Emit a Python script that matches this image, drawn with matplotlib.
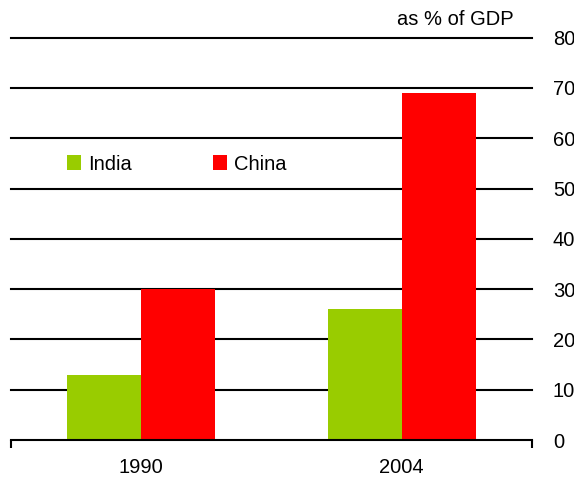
import matplotlib
matplotlib.use("Agg")
import matplotlib.pyplot as plt
import numpy as np

plt.rcParams["font.family"] = ["Liberation Sans", "DejaVu Sans"]

years = ["1990", "2004"]
india = [13, 26]
china = [30, 69]
yticks = [0, 10, 20, 30, 40, 50, 60, 70, 80]

GREEN = "#99CC00"
RED = "#FF0000"
FS = 14.5

fig = plt.figure(figsize=(5.74, 4.79), dpi=100)
ax = fig.add_axes([11 / 574, 1 - 440 / 479, 521 / 574, (440 - 37.7) / 479])

x = np.arange(len(years))
w = 0.284
ax.bar(x - w / 2, india, width=w, color=GREEN, label="India", zorder=3)
ax.bar(x + w / 2, china, width=w, color=RED, label="China", zorder=3)

ax.set_xlim(-0.5, 1.5)
ax.set_ylim(0, 80)

# gridlines (black, behind the bars)
for v in yticks[1:]:
    ax.axhline(v, color="black", linewidth=1.5, zorder=1, clip_on=False)

for s in ["top", "left", "right"]:
    ax.spines[s].set_visible(False)
ax.spines["bottom"].set_linewidth(1.5)
ax.spines["bottom"].set_zorder(4)

ax.yaxis.tick_right()
ax.set_yticks(yticks)
ax.tick_params(axis="y", length=0, pad=15, labelsize=FS)

ax.set_xticks(x)
ax.set_xticklabels(years)
ax.set_xticks([-0.5, 1.5], minor=True)
ax.tick_params(axis="x", which="major", length=0, pad=13, labelsize=FS)
ax.tick_params(axis="x", which="minor", length=6, width=1.5, direction="out")

ax.text(0.9655, 81.8, "as % of GDP", transform=ax.get_yaxis_transform(),
        ha="right", va="bottom", fontsize=FS)

ax.legend(loc="center left", bbox_to_anchor=(0.1075, 0.686), ncol=2,
          frameon=False, fontsize=FS, borderpad=0, borderaxespad=0,
          handlelength=0.7, handleheight=0.7, handletextpad=0.36,
          columnspacing=4.0)

plt.savefig("out.png", dpi=100)
